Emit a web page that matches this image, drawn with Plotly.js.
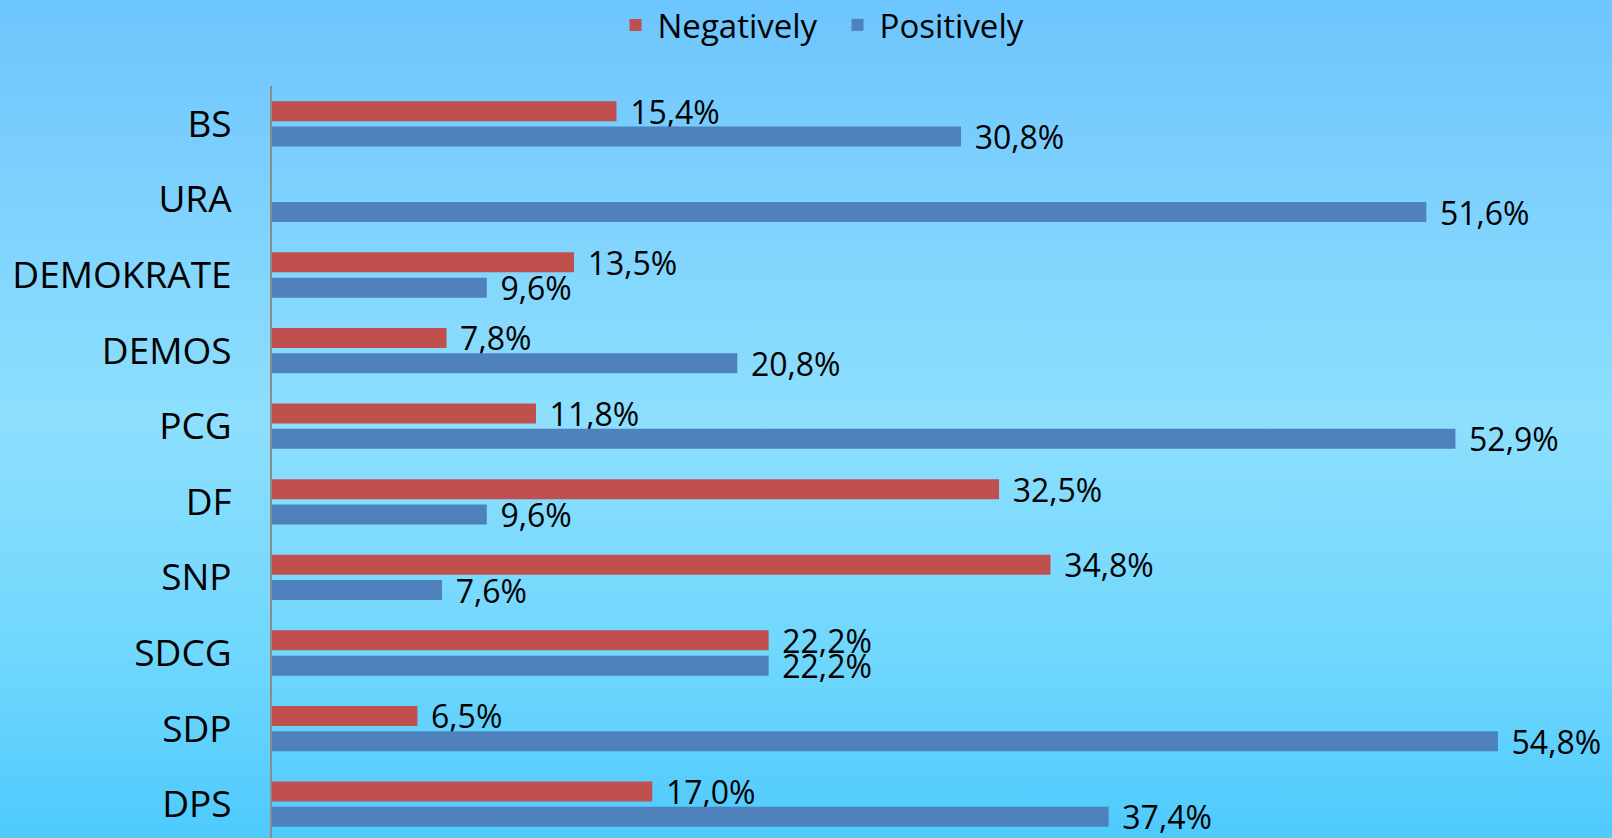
<!DOCTYPE html>
<html>
<head>
<meta charset="utf-8">
<script src="https://cdn.plot.ly/plotly-3.0.1.min.js"></script>
<style>
  html, body { margin: 0; padding: 0; }
  body {
    width: 1612px; height: 838px; overflow: hidden;
    background: linear-gradient(to bottom, #6cc5fd 0%, #7fd2fd 25%, #8ddffd 50%, #70d7fd 78%, #4ecafd 100%);
  }
  #chart { width: 1612px; height: 838px; }
</style>
</head>
<body>
<div id="chart"></div>
<script>
const parties = ["BS", "URA", "DEMOKRATE", "DEMOS", "PCG", "DF", "SNP", "SDCG", "SDP", "DPS"];
const negatively = [15.4, null, 13.5, 7.8, 11.8, 32.5, 34.8, 22.2, 6.5, 17.0];
const positively = [30.8, 51.6, 9.6, 20.8, 52.9, 9.6, 7.6, 22.2, 54.8, 37.4];
const seriesNames = ["Negatively", "Positively"];

const FONT = '"Open Sans", "Noto Sans", sans-serif';
const labelFont = { family: FONT, size: 32, color: "#000000" };

const common = {
  type: "bar",
  orientation: "h",
  y: parties,
  textposition: "outside",
  texttemplate: "\u2009\u2009%{x:.1f}%",
  textfont: labelFont,
  constraintext: "none",
  cliponaxis: false,
  hoverinfo: "skip"
};

const traces = [
  Object.assign({}, common, { name: seriesNames[0], x: negatively, marker: { color: "#c0504d" } }),
  Object.assign({}, common, { name: seriesNames[1], x: positively, marker: { color: "#4f81bd" } })
];

const layout = {
  width: 1612,
  height: 838,
  paper_bgcolor: "rgba(0,0,0,0)",
  plot_bgcolor: "rgba(0,0,0,0)",
  separators: ",.",
  font: { family: FONT, color: "#000000" },
  margin: { l: 272, r: 0, t: 86, b: 0, pad: 0, autoexpand: false },
  barmode: "group",
  bargap: 0.331,
  bargroupgap: 0.209,
  showlegend: true,
  legend: {
    orientation: "h",
    xref: "container", x: 0.3806, xanchor: "left",
    yref: "paper", y: 1.1184, yanchor: "top",
    font: { family: FONT, size: 33, color: "#000000" },
    bgcolor: "rgba(0,0,0,0)",
    itemwidth: 34,
    entrywidth: 173,
    entrywidthmode: "pixels",
    traceorder: "normal"
  },
  xaxis: {
    range: [0, 59.9],
    showgrid: false, zeroline: false, showline: false,
    showticklabels: false, ticks: ""
  },
  yaxis: {
    type: "category",
    range: [9.447, -0.5],
    showgrid: false, zeroline: false,
    showline: true, linecolor: "#8c8c8c", linewidth: 2,
    ticks: "", ticklabelstandoff: 31,
    tickfont: { family: FONT, size: 37, color: "#000000" }
  }
};

Plotly.newPlot("chart", traces, layout, { displayModeBar: false, staticPlot: true });
</script>
</body>
</html>
